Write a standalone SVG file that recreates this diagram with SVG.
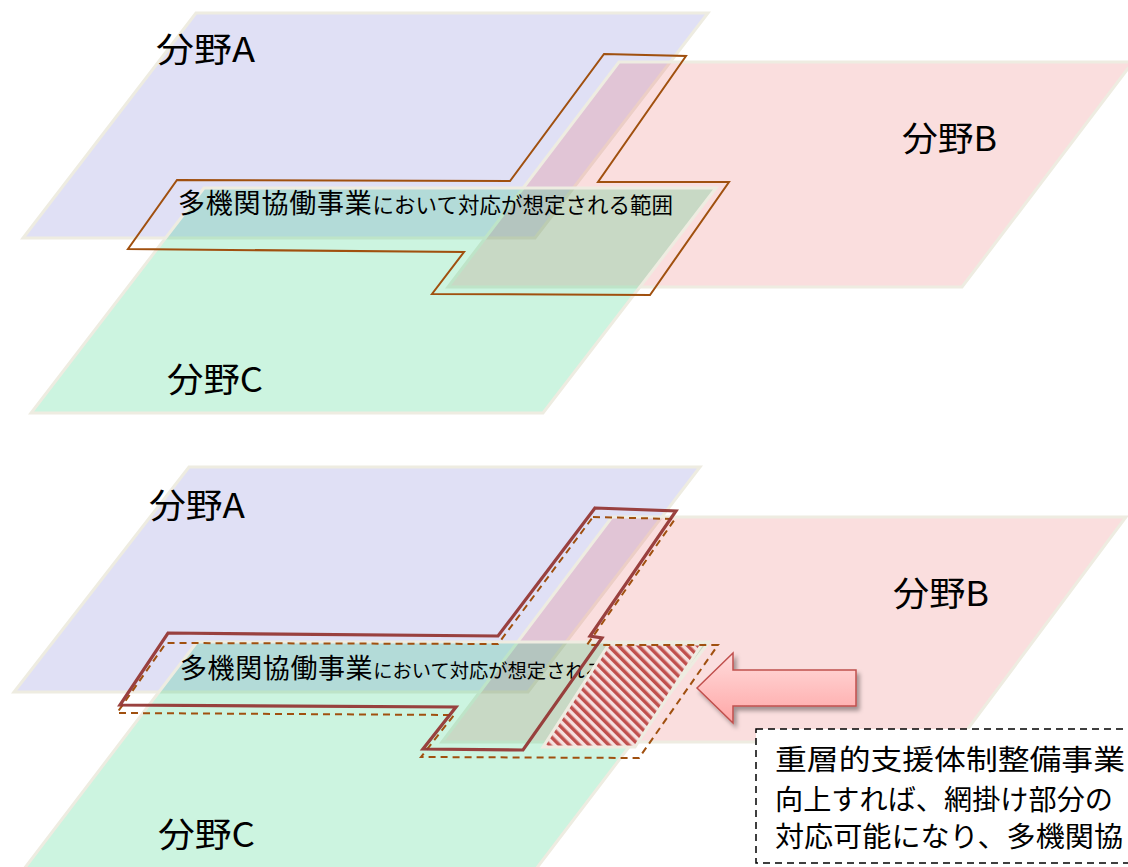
<svg xmlns="http://www.w3.org/2000/svg" width="1128" height="867" viewBox="0 0 1128 867">
<defs>
<style>
.plane{stroke:#EEECE1;stroke-width:3;stroke-linejoin:miter}
.pa{fill:rgb(100,100,205);fill-opacity:0.2}
.pb{fill:rgb(230,90,90);fill-opacity:0.2}
.pc{fill:rgb(0,200,100);fill-opacity:0.2}
.lbl{font-family:"Noto Sans CJK JP","Noto Sans",sans-serif;font-size:34px;fill:#000}
.txt{font-family:"Noto Sans CJK JP","Noto Sans",sans-serif;fill:#000}
.outline{fill:none;stroke:#A0500F;stroke-width:2;stroke-linejoin:miter}
.dashed{fill:none;stroke:#A0500F;stroke-width:2;stroke-dasharray:7 5}
.solid{fill:none;stroke:#953735;stroke-width:3.2;stroke-opacity:0.95;stroke-linejoin:miter}
.box{fill:#fff;stroke:#000;stroke-width:1.5;stroke-dasharray:7 5}
</style>
<pattern id="hatch" patternUnits="userSpaceOnUse" width="7" height="7" patternTransform="rotate(-45)">
<rect width="7" height="7" fill="#F6E0DF"/>
<rect width="3.5" height="7" fill="#C0504D"/>
</pattern>
<linearGradient id="arrowGrad" x1="0" y1="0" x2="0" y2="1">
<stop offset="0" stop-color="#FFDCDC"/>
<stop offset="1" stop-color="#FFA6A6"/>
</linearGradient>
<filter id="shadow" x="-20%" y="-20%" width="140%" height="150%">
<feDropShadow dx="3" dy="4" stdDeviation="2" flood-color="#000" flood-opacity="0.35"/>
</filter>
</defs>

<!-- top section -->
<g id="plane-A-top"><polygon class="plane pa" points="196,13 708,13 535,238 23,238"/></g>
<g id="plane-B-top"><polygon class="plane pb" points="619,62 1133,62 962,287 448,287"/></g>
<g id="plane-C-top"><polygon class="plane pc" points="204,188 716,188 543,413 31,413"/></g>
<g id="label-A-top"><text class="lbl" x="156" y="62" textLength="99" lengthAdjust="spacingAndGlyphs">分野A</text></g>
<g id="label-B-top"><text class="lbl" x="902" y="151" textLength="95" lengthAdjust="spacingAndGlyphs">分野B</text></g>
<g id="label-C-top"><text class="lbl" x="167" y="392" textLength="96" lengthAdjust="spacingAndGlyphs">分野C</text></g>
<g id="scope-top">
<text class="txt" x="178" y="213"><tspan font-size="27" letter-spacing="0.8">多機関協働事業</tspan><tspan font-size="21.5">において対応が想定される範囲</tspan></text>
<polygon class="outline" points="604,54 686,56 598,182 729,182 650,295 432,294 464,252 128,249 177,180 510,181"/>
</g>

<!-- bottom section -->
<g id="plane-A-bottom"><polygon class="plane pa" points="189,467 700,467 528,692 14,692"/></g>
<g id="plane-B-bottom"><polygon class="plane pb" points="612,517 1126,517 958,742 442,742"/></g>
<g id="plane-C-bottom"><polygon class="plane pc" points="197,642 709,642 536,869 24,869"/></g>
<g id="label-A-bottom"><text class="lbl" x="149" y="518" textLength="96" lengthAdjust="spacingAndGlyphs">分野A</text></g>
<g id="label-B-bottom"><text class="lbl" x="893" y="606" textLength="96" lengthAdjust="spacingAndGlyphs">分野B</text></g>
<g id="label-C-bottom"><text class="lbl" x="158" y="847" textLength="97" lengthAdjust="spacingAndGlyphs">分野C</text></g>
<g id="scope-bottom">
<text class="txt" x="180" y="678"><tspan font-size="27" letter-spacing="0.6">多機関協働事業</tspan><tspan font-size="19.3">において対応が想定される</tspan></text>
</g>
<g id="hatched-area"><polygon points="609,644 702,644 635,747 543,747" fill="url(#hatch)" stroke="#EEECE1" stroke-width="3"/></g>
<g id="scope-bottom-outlines">
<polygon class="dashed" points="593,517 675,519 587,645 718,645 639,758 421,757 454,715 117,713 166,643 498,644"/>
<polygon class="solid" points="595,508 676,511 590,636 602,638 523,750 423,749 456,707 120,705 168,633 498,636"/>
</g>

<g id="connectors">
<path d="M697,688 L733,653 L733,670 L856,670 L856,706 L733,706 L733,723 Z" fill="url(#arrowGrad)" stroke="#C0504D" stroke-width="1.5" filter="url(#shadow)"/>
</g>

<g id="note-box">
<rect class="box" x="756" y="729" width="420" height="134"/>
<text class="txt" font-size="28" x="775" y="770" textLength="350" lengthAdjust="spacingAndGlyphs">重層的支援体制整備事業</text>
<text class="txt" font-size="28" x="775" y="810" textLength="338" lengthAdjust="spacingAndGlyphs">向上すれば、網掛け部分の</text>
<text class="txt" font-size="28" x="775" y="847" textLength="348" lengthAdjust="spacingAndGlyphs">対応可能になり、多機関協</text>
</g>
</svg>
